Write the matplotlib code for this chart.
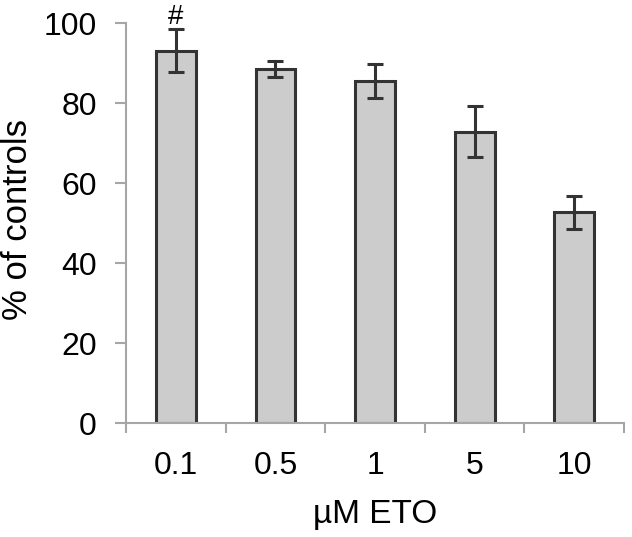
import matplotlib
matplotlib.use("Agg")
import matplotlib.pyplot as plt
import numpy as np

# data
doses = ["0.1", "0.5", "1", "5", "10"]
pct_controls = [93.2, 88.6, 85.6, 72.9, 52.8]
sem = [5.3, 2.1, 4.3, 6.4, 4.1]
marks = ["#", "", "", "", ""]

plt.rcParams["font.family"] = ["Liberation Sans", "DejaVu Sans"]

axis_grey = "#a6a6a6"
edge = "#333333"

fig = plt.figure(figsize=(6.32, 5.37), dpi=100)
ax = fig.add_axes([0.1994, 0.2117, 0.788, 0.7449])

x = np.arange(len(doses))
ax.bar(x, pct_controls, width=0.40, color="#cccccc", edgecolor=edge,
       linewidth=2.2, zorder=2)
ax.errorbar(x, pct_controls, yerr=sem, fmt="none", ecolor=edge,
            elinewidth=2.2, capsize=6, capthick=2.2, zorder=3)

for xi, m, v, e in zip(x, marks, pct_controls, sem):
    if m:
        ax.text(xi, v + e + 1.4, m, ha="center", va="baseline", fontsize=20,
                clip_on=False)

ax.set_xlim(-0.5, len(doses) - 0.5)
ax.set_ylim(0, 100)

# tick marks sit between the categories, labels at the centres
ax.set_xticks(np.arange(len(doses) + 1) - 0.5)
ax.set_xticklabels([])
ax.set_xticks(x, minor=True)
ax.set_xticklabels(doses, minor=True)
ax.tick_params(axis="x", which="major", length=7, width=1.5, color=axis_grey)
ax.tick_params(axis="x", which="minor", length=0, pad=20, labelsize=23)

ax.set_yticks(np.arange(0, 101, 20))
ax.tick_params(axis="y", length=8, width=1.5, color=axis_grey, pad=13,
               labelsize=23)

for side in ["top", "right"]:
    ax.spines[side].set_visible(False)
for side in ["left", "bottom"]:
    ax.spines[side].set_color(axis_grey)
    ax.spines[side].set_linewidth(1.5)

ax.set_ylabel("% of controls", fontsize=25)
ax.yaxis.set_label_coords(-0.185, 0.51)
ax.set_xlabel("µM ETO", fontsize=24)
ax.xaxis.set_label_coords(0.5, -0.19)

fig.savefig("out.png", dpi=100)
